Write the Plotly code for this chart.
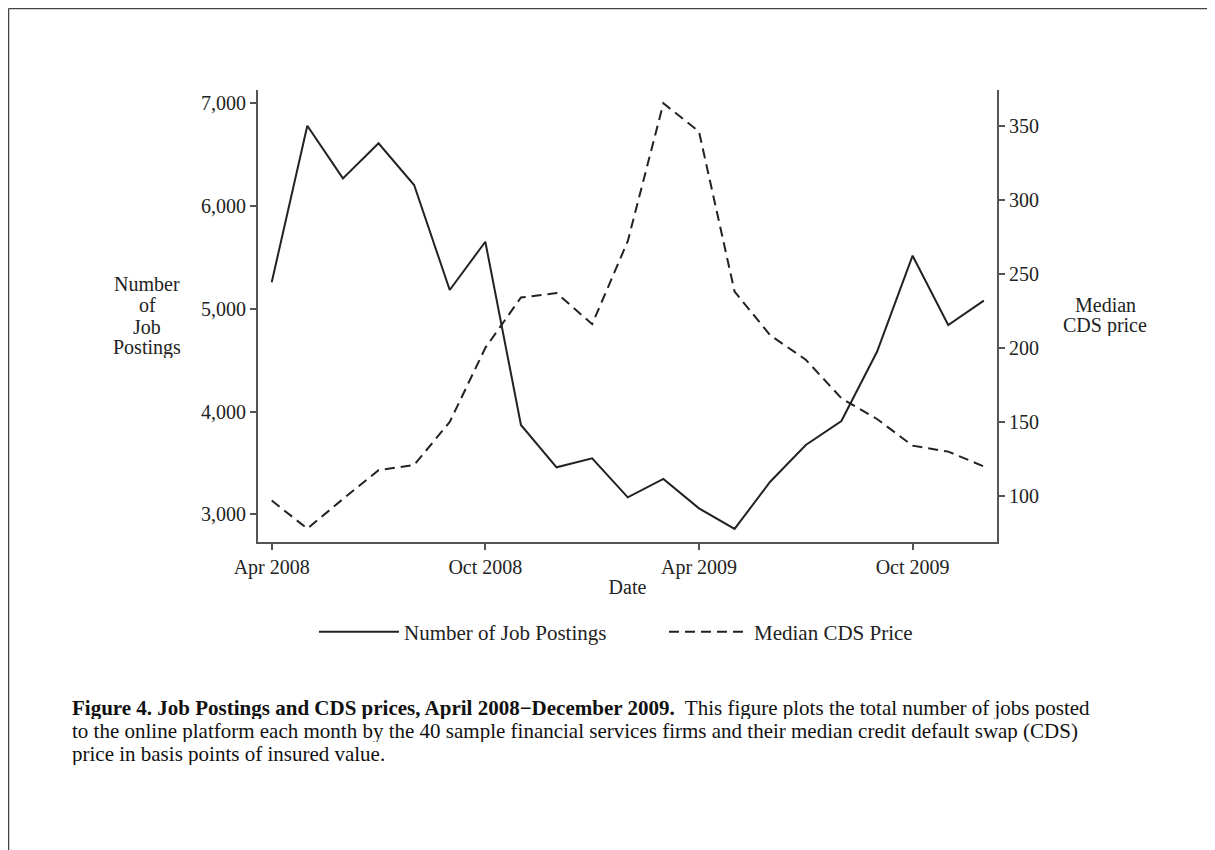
import plotly.graph_objects as go

# monthly series, Apr 2008 - Dec 2009
months = ["Apr 2008", "May 2008", "Jun 2008", "Jul 2008", "Aug 2008", "Sep 2008",
          "Oct 2008", "Nov 2008", "Dec 2008", "Jan 2009", "Feb 2009", "Mar 2009",
          "Apr 2009", "May 2009", "Jun 2009", "Jul 2009", "Aug 2009", "Sep 2009",
          "Oct 2009", "Nov 2009", "Dec 2009"]
job_postings = [5258, 6782, 6270, 6611, 6205, 5183, 5653, 3869, 3457, 3545, 3165,
                3344, 3058, 2857, 3317, 3674, 3908, 4582, 5517, 4842, 5079]
cds_price = [97, 78, 98, 117.5, 121, 150, 200, 234, 237, 216, 272, 365, 346,
             238, 208.5, 192, 166, 152, 134, 130, 120]

left_ticks = [3000, 4000, 5000, 6000, 7000]
right_ticks = [100, 150, 200, 250, 300, 350]
x_tick_idx = [0, 6, 12, 18]

x_idx = list(range(len(months)))

FONT = "Liberation Serif"
INK = "#222222"
AXIS = "#555555"

# the page body adds an 8px margin, so the figure is drawn 8px smaller
OFF = 8
W, H = 1215 - OFF, 850 - OFF
# plot area edges in screenshot pixels
L, R, T, B = 258, 997, 90, 542


def px_x(x):
    return (x - L) / (R - L)


def px_y(y):
    return (B - y) / (B - T)


fig = go.Figure()
fig.add_trace(go.Scatter(x=x_idx, y=job_postings, mode="lines",
                         name="Number of Job Postings",
                         line=dict(color=INK, width=2)))
fig.add_trace(go.Scatter(x=x_idx, y=cds_price, mode="lines", yaxis="y2",
                         name="Median CDS Price",
                         line=dict(color=INK, width=2, dash="10px,6px")))

fig.update_layout(
    width=W, height=H,
    margin=dict(l=L - OFF, r=1215 - R, t=T - OFF, b=850 - B, pad=0),
    paper_bgcolor="white", plot_bgcolor="white",
    font=dict(family=FONT, size=20, color=INK),
    xaxis=dict(range=[-0.385, 20.37], tickvals=x_tick_idx,
               ticktext=[months[i] for i in x_tick_idx],
               showline=True, linecolor=AXIS, linewidth=2, mirror=False,
               ticks="outside", ticklen=6, tickcolor=AXIS, tickwidth=1.5,
               showgrid=False, zeroline=False,
               title=dict(text="Date", standoff=2, font=dict(size=20))),
    yaxis=dict(range=[2730, 7130], tickvals=left_ticks, tickformat=",d",
               showline=True, linecolor=AXIS, linewidth=2,
               ticks="outside", ticklen=6, tickcolor=AXIS, tickwidth=1.5,
               showgrid=False, zeroline=False),
    yaxis2=dict(range=[69, 374], tickvals=right_ticks, overlaying="y",
                side="right", showline=True, linecolor=AXIS, linewidth=2,
                ticks="outside", ticklen=6, tickcolor=AXIS, tickwidth=1.5,
                showgrid=False, zeroline=False),
    legend=dict(orientation="h", x=px_x(314), xanchor="left", y=px_y(632),
                yanchor="middle", font=dict(size=21), bgcolor="rgba(0,0,0,0)",
                itemwidth=80, entrywidth=255, tracegroupgap=0),
    showlegend=True,
)

# horizontal axis titles, split into lines
for i, t in enumerate(["Number", "of", "Job", "Postings"]):
    fig.add_annotation(text=t, xref="paper", yref="paper", x=px_x(147),
                       y=px_y(283 + i * 21.5), showarrow=False, height=21,
                       xanchor="center", yanchor="middle", font=dict(size=20))
for i, t in enumerate(["Median", "CDS price"]):
    fig.add_annotation(text=t, xref="paper", yref="paper", x=px_x(1105),
                       y=px_y(304 + i * 21.5), showarrow=False, height=21,
                       xanchor="center", yanchor="middle", font=dict(size=20))

# figure caption
caption = [
    "<b>Figure 4. Job Postings and CDS prices, April 2008\u2212December 2009.</b>  "
    "This figure plots the total number of jobs posted",
    "to the online platform each month by the 40 sample financial services firms "
    "and their median credit default swap (CDS)",
    "price in basis points of insured value.",
]
for i, t in enumerate(caption):
    fig.add_annotation(text=t, xref="paper", yref="paper", x=px_x(70),
                       y=px_y(707 + i * 23), showarrow=False, height=23,
                       xanchor="left", yanchor="middle",
                       font=dict(size=21, color="#111111"))

# page frame (top and left edges)
fig.add_shape(type="line", xref="paper", yref="paper", x0=px_x(8.5), x1=px_x(1215),
              y0=px_y(8.5), y1=px_y(8.5), line=dict(color="#444444", width=1.5))
fig.add_shape(type="line", xref="paper", yref="paper", x0=px_x(8.5), x1=px_x(8.5),
              y0=px_y(8.5), y1=px_y(850), line=dict(color="#444444", width=1.5))

fig.write_html("out.html")
